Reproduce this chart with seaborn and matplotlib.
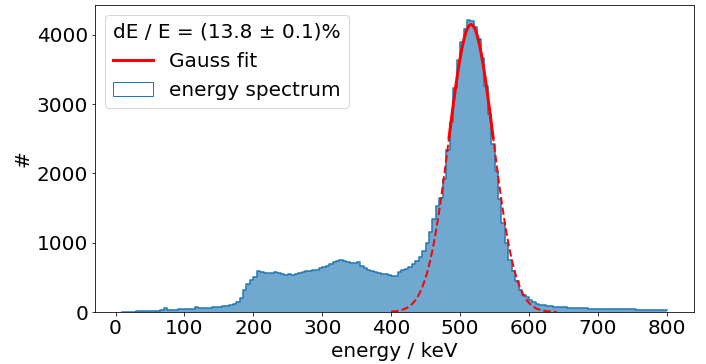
import numpy as np
import pandas as pd
import matplotlib
matplotlib.use("Agg")
import matplotlib.pyplot as plt
import matplotlib.patches as mpatches
from matplotlib.lines import Line2D
import seaborn as sns

plt.rcParams.update({'font.size': 20})

# energy spectrum: counts in 5 keV bins, 10 keV .. 800 keV
bin_start = 10
bin_stop = 800
bin_width = 5
counts = [
    5, 5, 6, 7, 9, 10, 11, 13, 15, 18,                              # 10-60
    20, 22, 60, 30, 28, 30, 38, 48, 40, 43,                         # 60-110
    50, 75, 55, 53, 58, 62, 66, 68, 74, 80,                         # 110-160
    88, 98, 110, 140, 200, 320, 410, 460, 505, 590,                 # 160-210
    575, 560, 565, 570, 572, 560, 545, 535, 545, 540,               # 210-260
    548, 560, 575, 585, 590, 600, 610, 630, 650, 670,               # 260-310
    700, 720, 740, 755, 735, 720, 712, 703, 715, 660,               # 310-360
    630, 610, 590, 580, 565, 552, 545, 535, 522, 525,               # 360-410
    575, 600, 620, 650, 690, 730, 790, 880, 1000, 1160,             # 410-460
    1350, 1530, 1650, 1920, 2340, 2750, 3230, 3640, 3900, 4080,     # 460-510
    4210, 4200, 4110, 3940, 3670, 3260, 2860, 2430, 2040, 1630,     # 510-560
    1290, 990, 750, 590, 450, 320, 250, 210, 175, 145,              # 560-610
    120, 108, 95, 88, 80, 75, 70, 68, 65, 60,                       # 610-660
    58, 56, 55, 53, 52, 50, 48, 45, 43, 42,                         # 660-710
    40, 40, 39, 38, 38, 38, 37, 37, 37, 36,                         # 710-760
    36, 35, 35, 34, 33, 32, 31, 30,                                 # 760-800
]

# Gauss fit result
fit_amp = 4150
fit_mu = 516
fit_sigma = 32
fit_lo, fit_hi = 484, 548      # fitted region (solid)
ext_lo, ext_hi = 400, 640      # extrapolated curve (dashed)
resolution = "dE / E = (13.8 ± 0.1)%"

edges = list(range(bin_start, bin_stop + bin_width, bin_width))
df = pd.DataFrame({"energy": [e + bin_width / 2 for e in edges[:-1]],
                   "counts": counts})


def gauss(x):
    return fit_amp * np.exp(-0.5 * ((x - fit_mu) / fit_sigma) ** 2)


fig = plt.figure(figsize=(706 / 72, 364 / 72), dpi=72)
ax = fig.add_axes([95.2 / 706, 1 - 312 / 364, (694 - 95.2) / 706, (312 - 5) / 364])

# filled bars + darker step outline
sns.histplot(data=df, x="energy", weights="counts", bins=edges, ax=ax,
             color="C0", alpha=0.64, linewidth=0)
sns.histplot(data=df, x="energy", weights="counts", bins=edges, ax=ax,
             color="C0", element="step", fill=False, linewidth=1.5)

x_ext = np.linspace(ext_lo, ext_hi, 300)
x_fit = np.linspace(fit_lo, fit_hi, 200)
ax.plot(x_ext, gauss(x_ext), color="red", lw=2, ls="--")
ax.plot(x_fit, gauss(x_fit), color="red", lw=3)

ax.set_xlim(-29.5, 839.5)
ax.set_ylim(0, 4433)
ax.set_xticks(range(0, 801, 100))
ax.set_xlabel("energy / keV")
ax.set_ylabel("#")

handles = [Line2D([], [], color="red", lw=3),
           mpatches.Patch(facecolor="none", edgecolor="C0")]
ax.legend(handles, ["Gauss fit", "energy spectrum"], title=resolution,
          loc="upper left")

fig.savefig("out.png", dpi=72)
